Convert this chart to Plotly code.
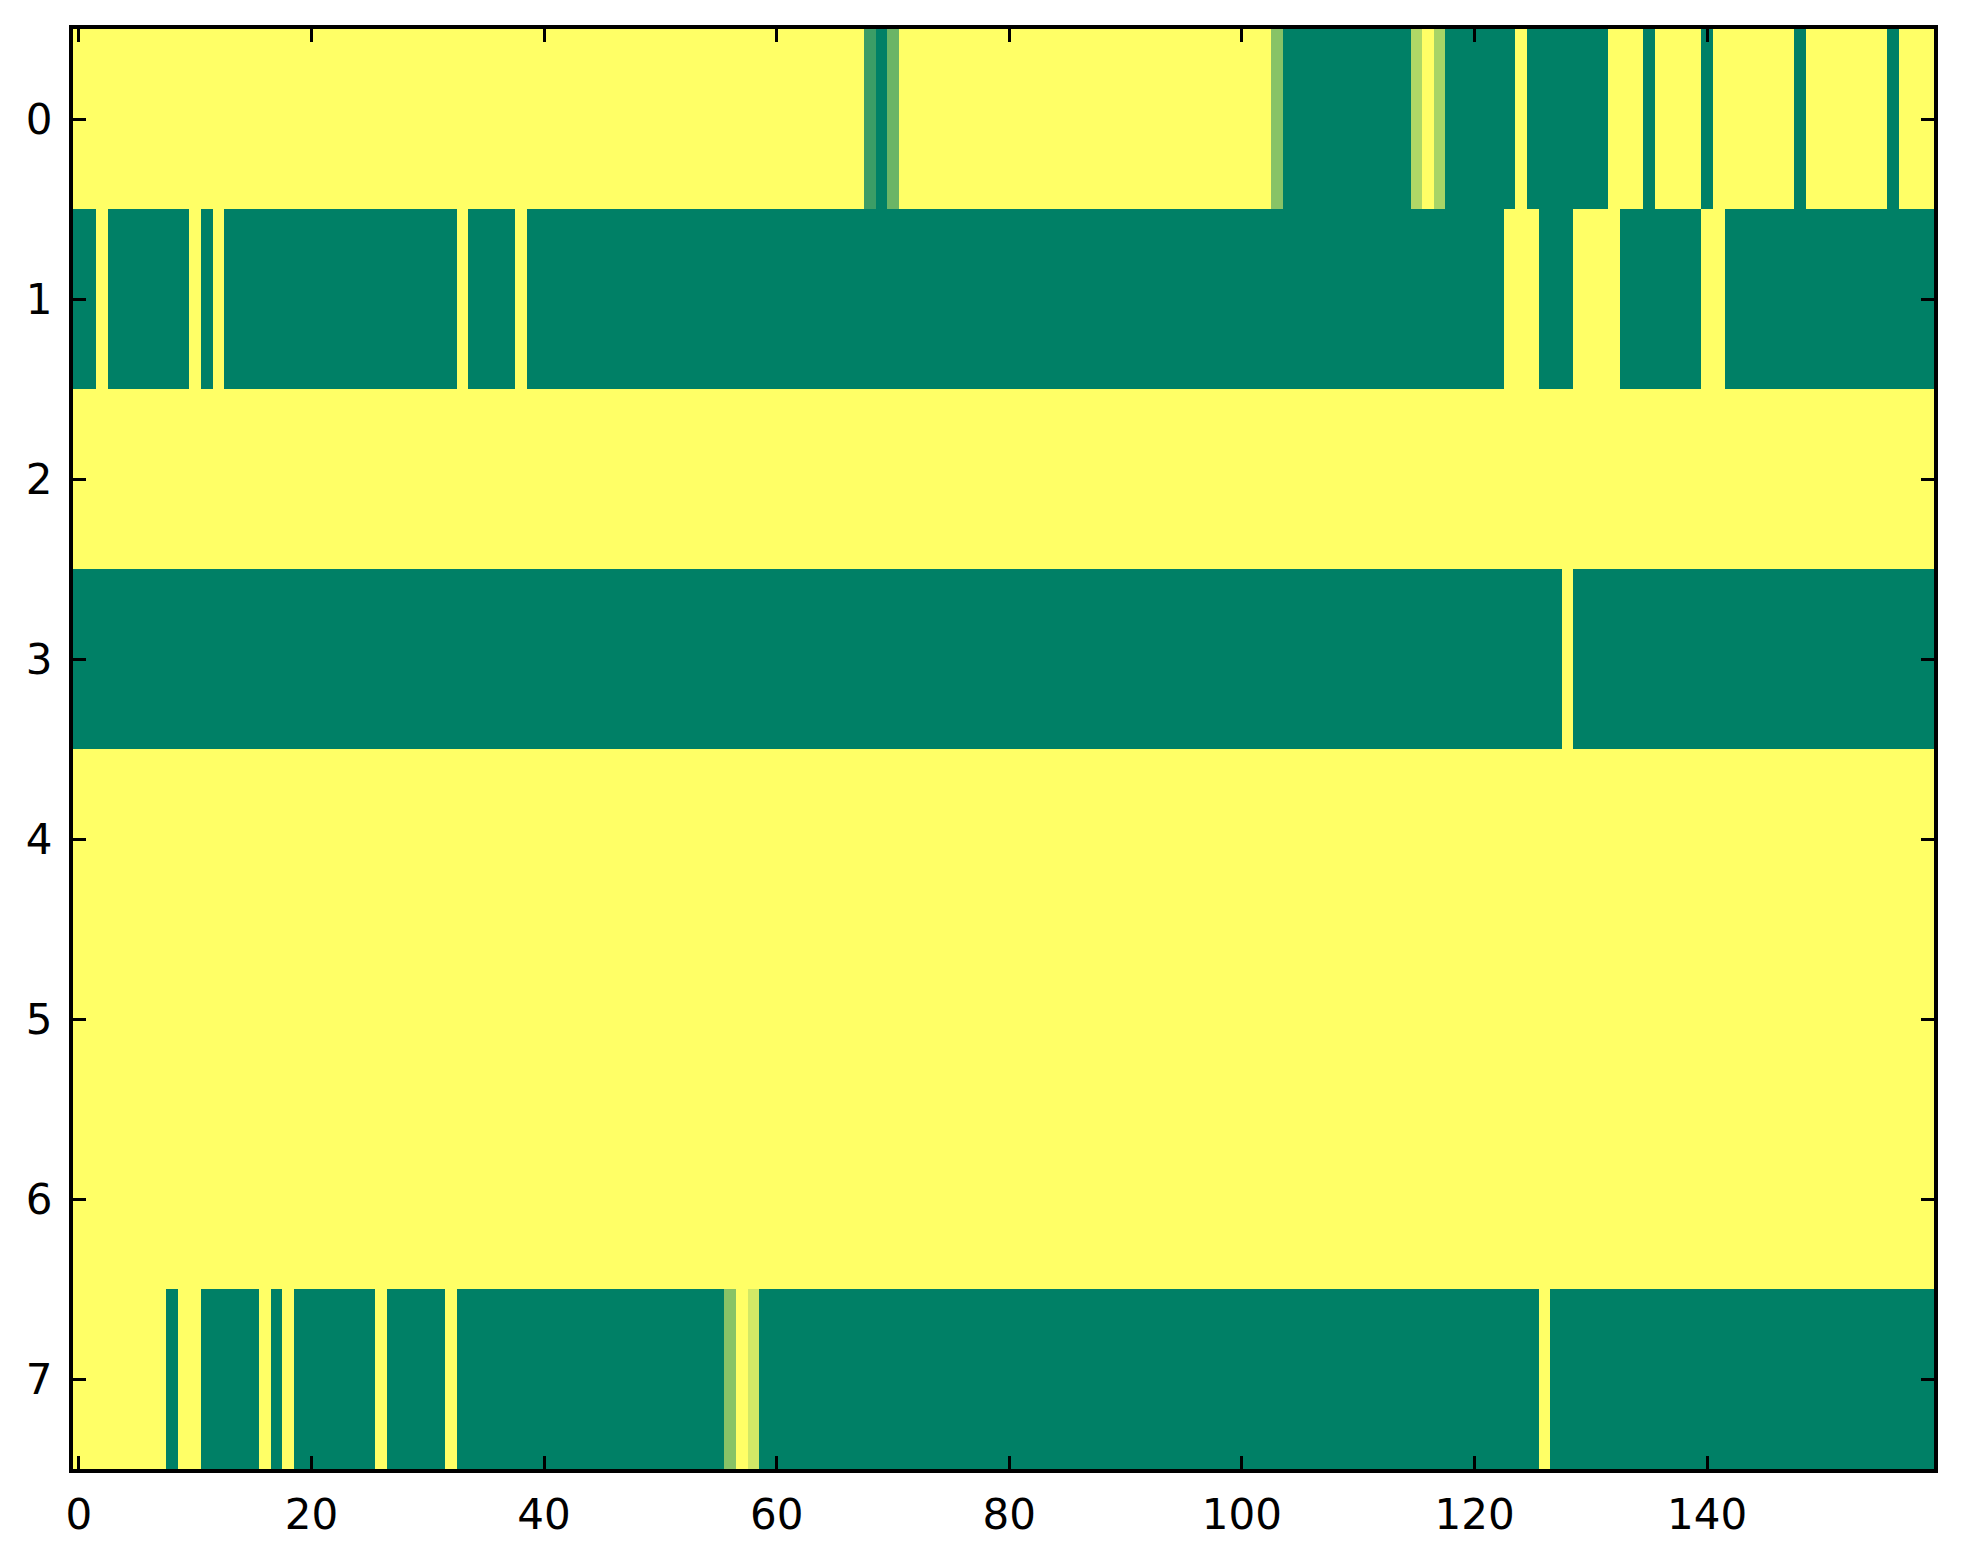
import plotly.graph_objects as go

width = 1963
height = 1564

# each row of the image as (value, run length) pairs, 160 columns per row
row0 = [(1, 68), (0.23, 1), (0, 1), (0.42, 1), (1, 32), (0.53, 1), (0, 11),
        (0.69, 1), (1, 1), (0.66, 1), (0, 6), (1, 1), (0, 7), (1, 3), (0, 1),
        (1, 4), (0, 1), (1, 7), (0, 1), (1, 7), (0, 1), (1, 3)]
row1 = [(0, 2), (1, 1), (0, 7), (1, 1), (0, 1), (1, 1), (0, 20), (1, 1),
        (0, 4), (1, 1), (0, 84), (1, 3), (0, 3), (1, 4), (0, 7), (1, 2), (0, 18)]
row2 = [(1, 160)]
row3 = [(0, 128), (1, 1), (0, 31)]
row4 = [(1, 160)]
row5 = [(1, 160)]
row6 = [(1, 160)]
row7 = [(1, 8), (0, 1), (1, 2), (0, 5), (1, 1), (0, 1), (1, 1), (0, 7),
        (1, 1), (0, 5), (1, 1), (0, 23), (0.53, 1), (1, 1), (0.82, 1),
        (0, 67), (1, 1), (0, 33)]

rows = [row0, row1, row2, row3, row4, row5, row6, row7]
xticks = [0, 20, 40, 60, 80, 100, 120, 140]
yticks = [0, 1, 2, 3, 4, 5, 6, 7]


def expand(runs):
    out = []
    for v, n in runs:
        out += [v] * n
    return out


z = [expand(r) for r in rows]

# matplotlib "summer" colormap
summer = [[0, 'rgb(0,128,102)'], [1, 'rgb(255,255,102)']]

heat = go.Heatmap(
    z=z,
    x=list(range(len(z[0]))),
    y=list(range(len(z))),
    colorscale=summer,
    zmin=0,
    zmax=1,
    showscale=False,
)

axis_style = dict(
    showline=True,
    linecolor='black',
    linewidth=4,
    mirror='ticks',
    ticks='inside',
    ticklen=13,
    tickwidth=2.5,
    tickcolor='black',
    showgrid=False,
    zeroline=False,
    tickfont=dict(family='DejaVu Sans', size=42, color='black'),
)

# the page body adds 8px, so the margins are shifted to compensate
layout = go.Layout(
    width=width,
    height=height,
    margin=dict(l=65, r=37, t=21, b=103),
    paper_bgcolor='white',
    plot_bgcolor='white',
    xaxis=dict(range=[-0.5, 159.5], tickvals=xticks, ticklabelstandoff=6,
               **axis_style),
    yaxis=dict(range=[7.5, -0.5], tickvals=yticks, ticklabelstandoff=8,
               **axis_style),
)

fig = go.Figure(data=[heat], layout=layout)
fig.write_html("out.html")
